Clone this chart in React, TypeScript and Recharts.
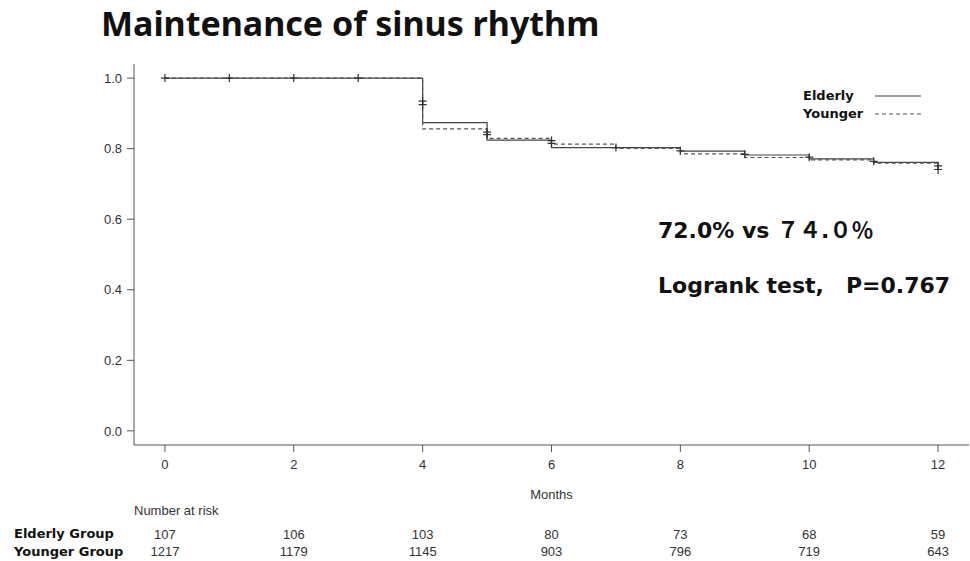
import React from "react";
import {
  ComposedChart,
  Line,
  Scatter,
  XAxis,
  YAxis,
} from "recharts";

// Kaplan-Meier steps (month, survival)
const elderlyMonths = [0, 4, 5, 6, 8, 9, 10, 11, 12];
const elderlySurv = [1, 0.874, 0.824, 0.803, 0.793, 0.782, 0.771, 0.761, 0.745];

const youngerMonths = [0, 4, 5, 6, 7, 8, 9, 10, 11, 12];
const youngerSurv = [1, 0.856, 0.829, 0.813, 0.801, 0.785, 0.775, 0.768, 0.759, 0.728];

// censor marks
const censorMonths = [0, 1, 2, 3, 4, 4, 5, 5, 6, 6, 7, 8, 9, 10, 11, 12, 12];
const censorSurv = [1, 1, 1, 1, 0.935, 0.925, 0.847, 0.84, 0.823, 0.815, 0.803, 0.794, 0.784, 0.776, 0.764, 0.751, 0.741];

const xTicks = [0, 2, 4, 6, 8, 10, 12];
const yTicks = [0, 0.2, 0.4, 0.6, 0.8, 1.0];

const elderlyAtRisk = [107, 106, 103, 80, 73, 68, 59];
const youngerAtRisk = [1217, 1179, 1145, 903, 796, 719, 643];

const elderlyData = elderlyMonths.map((t, i) => ({ t, s: elderlySurv[i] }));
const youngerData = youngerMonths.map((t, i) => ({ t, s: youngerSurv[i] }));
const censorData = censorMonths.map((t, i) => ({ t, s: censorSurv[i] }));

const axisColor = "#555";
const plainFont = "'Liberation Sans', Arial, sans-serif";
const tickFont = { fontFamily: plainFont, fontSize: 13, fill: "#333" };
const titleFont = "'Noto Sans', 'Noto Sans CJK JP', sans-serif";
const boldFont = "'DejaVu Sans', 'Noto Sans CJK JP', sans-serif";

const CensorMark = (props: any) => {
  const { cx, cy } = props;
  if (cx == null || cy == null) return null;
  return (
    <path
      d={`M${cx - 4},${cy}H${cx + 4}M${cx},${cy - 4}V${cy + 4}`}
      stroke="#333"
      strokeWidth={1.2}
      fill="none"
    />
  );
};

// month tick + number at risk under it
const MonthTick = (props: any) => {
  const { x, y, payload } = props;
  const i = xTicks.indexOf(payload.value);
  return (
    <g>
      <text x={x} y={y} dy="0.71em" textAnchor="middle" {...tickFont}>
        {payload.value}
      </text>
      <text x={x} y={y + 69.5} dy="0.71em" textAnchor="middle" {...tickFont}>
        {i >= 0 ? elderlyAtRisk[i] : ""}
      </text>
      <text x={x} y={y + 86.5} dy="0.71em" textAnchor="middle" {...tickFont}>
        {i >= 0 ? youngerAtRisk[i] : ""}
      </text>
    </g>
  );
};

const LegendBox = () => (
  <div style={{ fontFamily: boldFont, fontWeight: 700, fontSize: 13, color: "#111", lineHeight: "18px" }}>
    <div style={{ display: "flex", alignItems: "center" }}>
      <span style={{ width: 72 }}>Elderly</span>
      <svg width={46} height={4}>
        <line x1={0} y1={2} x2={46} y2={2} stroke="#444" strokeWidth={1.2} />
      </svg>
    </div>
    <div style={{ display: "flex", alignItems: "center" }}>
      <span style={{ width: 72 }}>Younger</span>
      <svg width={46} height={4}>
        <line x1={0} y1={2} x2={46} y2={2} stroke="#555" strokeWidth={1.2} strokeDasharray="4 3" />
      </svg>
    </div>
  </div>
);

export default function App() {
  return (
    <div style={{ position: "absolute", left: 0, top: 0, width: 970, height: 561, background: "#fff" }}>
      <div
        style={{
          position: "absolute",
          left: 101,
          top: 0,
          fontFamily: titleFont,
          fontWeight: 700,
          fontSize: 34,
          color: "#111",
          whiteSpace: "nowrap",
        }}
      >
        Maintenance of sinus rhythm
      </div>
      <ComposedChart
        width={970}
        height={561}
        margin={{ top: 64, right: 1, bottom: 2, left: 74 }}
        style={{ position: "absolute", left: 0, top: 0 }}
      >
        <XAxis
          type="number"
          dataKey="t"
          domain={[-0.48, 12.48]}
          ticks={xTicks}
          allowDataOverflow
          height={114}
          stroke={axisColor}
          tickSize={7}
          tickMargin={8}
          tick={<MonthTick />}
          label={{
            value: "Months",
            position: "insideBottom",
            offset: 60,
            style: { fontFamily: plainFont, fontSize: 13, fill: "#333" },
          }}
        />
        <YAxis
          type="number"
          domain={[-0.04, 1.04]}
          ticks={yTicks}
          allowDataOverflow
          width={60}
          stroke={axisColor}
          tickSize={7}
          tickMargin={5}
          tick={tickFont}
          tickFormatter={(v: number) => v.toFixed(1)}
        />
        <Line
          data={elderlyData}
          dataKey="s"
          name="Elderly"
          type="stepAfter"
          stroke="#444"
          strokeWidth={1.2}
          dot={false}
          isAnimationActive={false}
        />
        <Line
          data={youngerData}
          dataKey="s"
          name="Younger"
          type="stepAfter"
          stroke="#555"
          strokeWidth={1.2}
          strokeDasharray="4 3"
          dot={false}
          isAnimationActive={false}
        />
        <Scatter
          data={censorData}
          dataKey="s"
          shape={<CensorMark />}
          isAnimationActive={false}
          legendType="none"
        />
      </ComposedChart>
      <div style={{ position: "absolute", left: 803, top: 87 }}>
        <LegendBox />
      </div>
      <div style={{ position: "absolute", left: 658, top: 212, fontFamily: boldFont, fontWeight: 700, fontSize: 22, color: "#111", whiteSpace: "nowrap" }}>
        72.0% vs ７４.０％
      </div>
      <div style={{ position: "absolute", left: 658, top: 267, fontFamily: boldFont, fontWeight: 700, fontSize: 22, color: "#111", whiteSpace: "nowrap" }}>
        Logrank test,　P=0.767
      </div>
      <div style={{ position: "absolute", left: 134, top: 503, fontFamily: plainFont, fontSize: 13, color: "#333" }}>
        Number at risk
      </div>
      <div style={{ position: "absolute", left: 14, top: 525, fontFamily: boldFont, fontWeight: 700, fontSize: 13, color: "#111", lineHeight: "18px" }}>
        <div>Elderly Group</div>
        <div>Younger Group</div>
      </div>
    </div>
  );
}
